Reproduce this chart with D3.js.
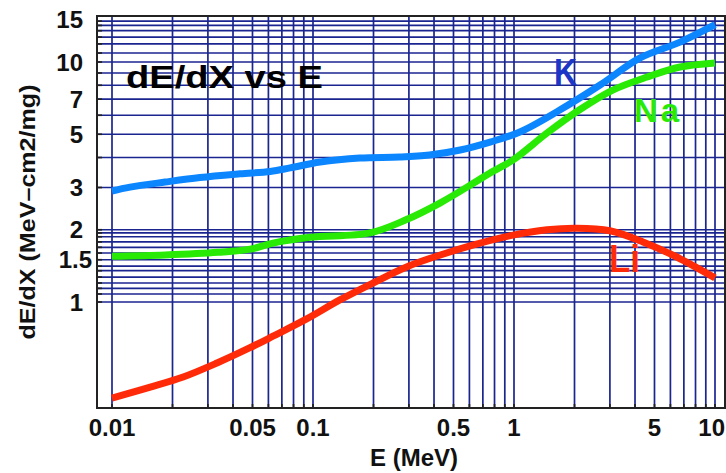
<!DOCTYPE html>
<html><head><meta charset="utf-8">
<script src="https://cdn.jsdelivr.net/npm/d3@7"></script>
<style>
html,body{margin:0;padding:0;background:#fff;}
svg{display:block;}
text{font-family:"Liberation Sans",Arial,Helvetica,sans-serif;font-weight:bold;}
</style></head>
<body>
<svg id="chart" width="726" height="473"></svg>
<script>
// ---- data ----
const energyK  = [0.01, 0.0123, 0.0184, 0.0274, 0.0433, 0.0612, 0.0769, 0.1085, 0.171, 0.27, 0.38, 0.54, 0.76, 1.07, 1.69, 2.68, 4.24, 6.7, 10];
const dedxK    = [2.90, 3.01, 3.16, 3.30, 3.42, 3.50, 3.62, 3.83, 3.98, 4.02, 4.10, 4.30, 4.64, 5.11, 6.31, 8.02, 10.4, 12.1, 14.3];
const energyNa = [0.01, 0.0184, 0.0337, 0.0486, 0.0632, 0.0967, 0.192, 0.29, 0.43, 0.63, 0.76, 0.99, 1.46, 2.11, 3.1, 4.6, 6.7, 10];
const dedxNa   = [1.55, 1.57, 1.61, 1.66, 1.76, 1.86, 1.94, 2.20, 2.59, 3.13, 3.45, 3.91, 5.06, 6.31, 7.64, 8.66, 9.53, 9.91];
const energyLi = [0.01, 0.0155, 0.0226, 0.0333, 0.0486, 0.0632, 0.093, 0.136, 0.199, 0.292, 0.43, 0.63, 0.99, 1.46, 2.04, 3.0, 4.38, 6.45, 10];
const dedxLi   = [0.398, 0.442, 0.487, 0.557, 0.645, 0.720, 0.850, 1.02, 1.20, 1.40, 1.57, 1.73, 1.90, 2.0, 2.03, 1.98, 1.78, 1.54, 1.26];

const xTickLabels = [0.01, 0.05, 0.1, 0.5, 1, 5, 10];
const yTickLabels = [1, 1.5, 2, 3, 5, 7, 10, 15];
const xGrid = [0.01,0.02,0.03,0.04,0.05,0.06,0.07,0.08,0.09,0.1,0.2,0.3,0.4,0.5,0.6,0.7,0.8,0.9,1,2,3,4,5,6,7,8,9,10];
const yGrid = [1, 1.08, 1.14, 1.2, 1.27, 1.35, 1.41, 1.5, 1.6, 1.69, 1.78, 1.87, 1.94, 2, 3, 4, 5, 6, 7, 8, 9, 10, 10.9, 11.9, 12.7, 13.5, 14.2, 14.8];

const seriesNames = ["K", "Na", "Li"];
const title = "dE/dX vs E";
const xTitle = "E (MeV)";
const yTitle = "dE/dX (MeV\u2013cm2/mg)";

// ---- layout ----
const svg = d3.select("#chart");
const frame = {left: 97, top: 16, right: 725, bottom: 408};
const x = d3.scaleLog().domain([0.01, 10]).range([112, 715]);
const y = d3.scaleLog().domain([1, 10]).range([302, 62]);
const gridColor = "#1b2590";

// grid
svg.append("g").selectAll("line").data(xGrid).join("line")
  .attr("x1", d => x(d)).attr("x2", d => x(d))
  .attr("y1", frame.top).attr("y2", frame.bottom)
  .attr("stroke", gridColor).attr("stroke-width", 1.7);
svg.append("g").selectAll("line").data(yGrid).join("line")
  .attr("x1", frame.left).attr("x2", frame.right)
  .attr("y1", d => y(d)).attr("y2", d => y(d))
  .attr("stroke", gridColor).attr("stroke-width", 1.7);

// small ticks
svg.append("g").selectAll("line").data(xGrid).join("line")
  .attr("x1", d => x(d)).attr("x2", d => x(d))
  .attr("y1", frame.bottom - 4).attr("y2", frame.bottom)
  .attr("stroke", "#222").attr("stroke-width", 1.7);
svg.append("g").selectAll("line").data(yGrid).join("line")
  .attr("x1", frame.left).attr("x2", frame.left + 5)
  .attr("y1", d => y(d)).attr("y2", d => y(d))
  .attr("stroke", "#222").attr("stroke-width", 1.7);

// frame
svg.append("rect").attr("x", frame.left).attr("y", frame.top)
  .attr("width", frame.right - frame.left).attr("height", frame.bottom - frame.top)
  .attr("fill", "none").attr("stroke", "#222").attr("stroke-width", 2);

// curves
const line = d3.line().x(d => x(d[0])).y(d => y(d[1])).curve(d3.curveCatmullRom.alpha(0.5));
const series = [
  {name: seriesNames[0], e: energyK,  v: dedxK,  color: "#0c86ff"},
  {name: seriesNames[1], e: energyNa, v: dedxNa, color: "#28ea05"},
  {name: seriesNames[2], e: energyLi, v: dedxLi, color: "#ff2a08"}
];
series.forEach(s => {
  svg.append("path").datum(d3.zip(s.e, s.v)).attr("d", line)
    .attr("fill", "none").attr("stroke", s.color).attr("stroke-width", 7)
    .attr("stroke-linejoin", "round");
});

// series labels
svg.append("text").text(seriesNames[0]).attr("x", 554).attr("y", 85)
  .attr("font-size", 36).attr("fill", "#1c36c8").attr("textLength", 23).attr("lengthAdjust", "spacingAndGlyphs");
svg.append("text").text(seriesNames[1]).attr("x", 634).attr("y", 122)
  .attr("font-size", 33).attr("fill", "#28ea05").attr("textLength", 45).attr("lengthAdjust", "spacing");
svg.append("text").text(seriesNames[2]).attr("x", 609).attr("y", 272)
  .attr("font-size", 38).attr("fill", "#ff2a08").attr("textLength", 31).attr("lengthAdjust", "spacingAndGlyphs");

// title
svg.append("text").text(title).attr("x", 126).attr("y", 88)
  .attr("font-size", 32).attr("fill", "#000").attr("textLength", 197).attr("lengthAdjust", "spacingAndGlyphs");

// tick labels
const lastX = xTickLabels[xTickLabels.length - 1];
svg.append("g").selectAll("text").data(xTickLabels).join("text")
  .attr("x", d => d === lastX ? 725 : x(d)).attr("y", 436)
  .attr("text-anchor", d => d === lastX ? "end" : "middle")
  .attr("font-size", 24).attr("fill", "#111").text(d => String(d));
svg.append("g").selectAll("text").data(yTickLabels).join("text")
  .attr("x", d => d === 1.5 ? 92 : 83).attr("y", d => y(d)).attr("dy", "0.36em")
  .attr("text-anchor", "end").attr("font-size", 24).attr("fill", "#111").text(d => String(d));

// axis titles
svg.append("text").text(xTitle).attr("x", 414).attr("y", 466).attr("text-anchor", "middle")
  .attr("font-size", 24).attr("fill", "#111");
svg.append("text").text(yTitle).attr("transform", "translate(35,212) rotate(-90)")
  .attr("text-anchor", "middle").attr("font-size", 22).attr("fill", "#111")
  .attr("textLength", 255).attr("lengthAdjust", "spacingAndGlyphs");
</script>
</body></html>
